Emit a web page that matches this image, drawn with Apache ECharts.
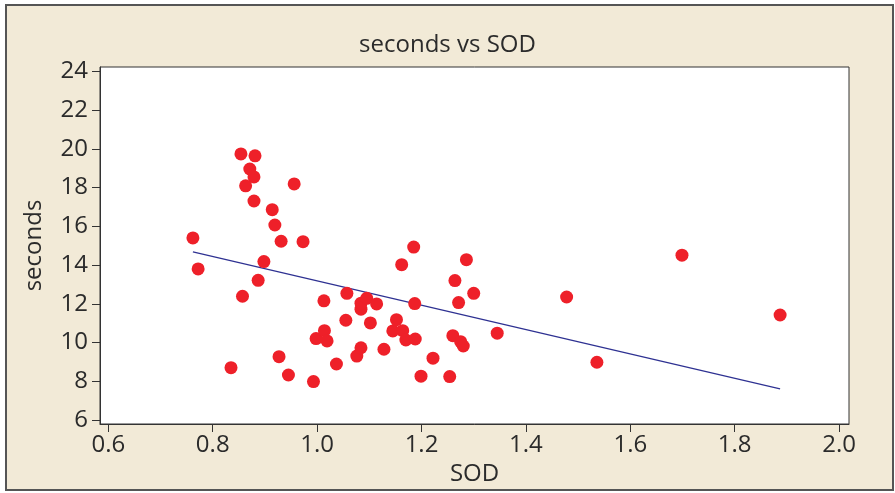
<!DOCTYPE html>
<html><head><meta charset="utf-8">
<script src="https://cdn.jsdelivr.net/npm/echarts@6/dist/echarts.min.js"></script>
<style>html,body{margin:0;padding:0;background:#fff;}#c{width:895px;height:493px;}</style>
</head><body><div id="c"></div>
<script>
const sod = [0.762,0.772,0.835,0.854,0.857,0.863,0.871,0.881,0.879,0.879,0.887,0.898,0.914,0.919,0.931,0.927,0.945,0.956,0.973,0.993,0.998,1.013,1.014,1.019,1.037,1.055,1.057,1.076,1.084,1.084,1.084,1.095,1.102,1.114,1.128,1.145,1.152,1.162,1.164,1.170,1.185,1.187,1.188,1.199,1.222,1.254,1.260,1.264,1.271,1.275,1.280,1.286,1.300,1.345,1.478,1.536,1.699,1.887];
const seconds = [15.40,13.80,8.70,19.74,12.39,18.09,18.96,19.64,18.55,17.31,13.21,14.18,16.86,16.07,15.23,9.27,8.32,18.19,15.21,7.98,10.20,12.15,10.61,10.08,8.89,11.15,12.54,9.30,9.73,11.72,12.03,12.28,11.01,11.99,9.65,10.60,11.18,14.02,10.61,10.13,14.93,12.01,10.18,8.26,9.19,8.24,10.35,13.20,12.06,10.04,9.82,14.28,12.54,10.48,12.35,8.98,14.51,11.42];
const fitX = [0.762, 1.887];
const fitY = [14.68, 7.60];
const xTicks = [0.6,0.8,1.0,1.2,1.4,1.6,1.8,2.0];
const yTicks = [6,8,10,12,14,16,18,20,22,24];

const FONT = '"Open Sans", "Noto Sans", sans-serif';
const TXT = '#2b2b2b';
const chart = echarts.init(document.getElementById('c'), null, {renderer:'canvas'});
chart.setOption({
  animation:false,
  backgroundColor:'#fff',
  graphic:[{type:'rect', z:-10, shape:{x:6,y:5,width:887,height:485}, style:{fill:'#f2ead7', stroke:'#555', lineWidth:2}}],
  title:{text:'seconds vs SOD', left:'center', top:28, textStyle:{fontFamily:FONT, fontWeight:'normal', fontSize:24, color:TXT}},
  grid:{left:100, top:67, right:46, bottom:69, show:true, backgroundColor:'#fff', borderColor:'#333', borderWidth:1},
  xAxis:{type:'value', min:0.584, max:2.019,
    name:'SOD', nameLocation:'middle', nameGap:33, nameTextStyle:{fontFamily:FONT, fontSize:24, color:TXT}},
  yAxis:{type:'value', min:5.79, max:24.23,
    name:'seconds', nameLocation:'middle', nameGap:54, nameRotate:90, nameTextStyle:{fontFamily:FONT, fontSize:24, color:TXT}},
  series:[
    {type:'scatter', data:sod.map((x,i)=>[x,seconds[i]]), symbolSize:13, itemStyle:{color:'#ee2029', opacity:1}, z:3},
    {type:'line', data:fitX.map((x,i)=>[x,fitY[i]]), symbol:'none', lineStyle:{color:'#2e3192', width:1.2}, z:2}
  ]
});
const axCommon = (ticks, fmt, margin) => ({
  axisLine:{show:true, lineStyle:{color:'#333'}},
  axisTick:{show:true, inside:false, length:8, customValues:ticks, lineStyle:{color:'#333'}},
  axisLabel:{customValues:ticks, formatter:fmt, fontFamily:FONT, fontSize:24, color:TXT, margin:margin},
  splitLine:{show:false}
});
chart.setOption({
  xAxis: axCommon(xTicks, v=>v.toFixed(1), 9),
  yAxis: axCommon(yTicks, v=>String(v), 12)
});
</script></body></html>
